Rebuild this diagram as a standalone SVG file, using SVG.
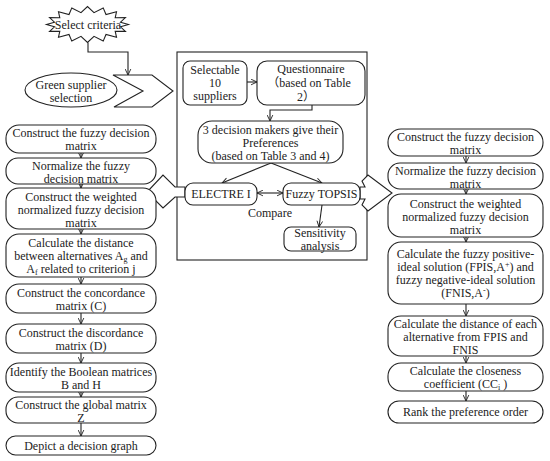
<svg xmlns="http://www.w3.org/2000/svg" width="550" height="461" viewBox="0 0 550 461">
<style>
text{font-family:"Liberation Serif","Noto Sans CJK SC",serif;font-size:12px;fill:#222;text-anchor:middle}
.b{fill:#fff;stroke:#222;stroke-width:1.1}
.c{fill:none;stroke:#222;stroke-width:1.1}
.sub{font-size:8px}
</style>
<defs>
<marker id="a" viewBox="0 0 10 10" refX="9.5" refY="5" markerWidth="7" markerHeight="7" markerUnits="userSpaceOnUse" orient="auto-start-reverse">
<path d="M1,1 L9.5,5 L1,9" fill="none" stroke="#222" stroke-width="1.3"/>
</marker>
</defs>
<rect width="550" height="461" fill="#fff"/>

<g id="center-frame"><rect class="c" x="177" y="52" width="190" height="208"/></g>

<g id="connectors">
<path class="c" d="M88,42.5 V52 H128 V75" marker-end="url(#a)"/>
<path class="c" d="M247,82 H257" marker-end="url(#a)"/>
<path class="c" d="M312,105 V110 H270 V121" marker-end="url(#a)"/>
<path class="c" d="M271,163 L222,183" marker-end="url(#a)"/>
<path class="c" d="M271,163 L322,183" marker-end="url(#a)"/>
<path class="c" d="M257,193 H283" marker-start="url(#a)" marker-end="url(#a)"/>
<path class="c" d="M322,205 L319,227" marker-end="url(#a)"/>
<path class="c" d="M81,153 V158" marker-end="url(#a)"/>
<path class="c" d="M81,184 V188" marker-end="url(#a)"/>
<path class="c" d="M81,229 V234" marker-end="url(#a)"/>
<path class="c" d="M81,277 V284" marker-end="url(#a)"/>
<path class="c" d="M81,313 V324" marker-end="url(#a)"/>
<path class="c" d="M81,353 V363" marker-end="url(#a)"/>
<path class="c" d="M81,392 V397" marker-end="url(#a)"/>
<path class="c" d="M81,423 V436" marker-end="url(#a)"/>
<path class="c" d="M466,156 V163" marker-end="url(#a)"/>
<path class="c" d="M466,189 V194" marker-end="url(#a)"/>
<path class="c" d="M466,237 V242" marker-end="url(#a)"/>
<path class="c" d="M466,304 V316" marker-end="url(#a)"/>
<path class="c" d="M466,356 V363" marker-end="url(#a)"/>
<path class="c" d="M466,391 V401" marker-end="url(#a)"/>
</g>

<g id="select-criteria">
<polygon class="b" points="128.5,24.5 120.5,26.8 125.4,31.4 115.2,31.2 116.5,37.2 106,34.5 103.2,41.1 94,36.3 87.5,42.5 81,36.3 71.8,41.1 69,34.5 58.5,37.2 59.8,31.2 49.6,31.4 54.5,26.8 46.5,24.5 54.5,22.2 49.6,17.6 59.8,17.8 58.5,11.8 69,14.5 71.8,7.9 81,12.7 87.5,6.5 94,12.7 103.2,7.9 106,14.5 116.5,11.8 115.2,17.8 125.4,17.6 120.5,22.2"/>
<text x="88" y="28.5">Select criteria</text>
</g>

<g id="green-supplier">
<ellipse class="b" cx="71" cy="90" rx="46" ry="17"/>
<text x="71" y="89">Green supplier</text>
<text x="71" y="102">selection</text>
</g>

<g id="chevron">
<polygon class="b" points="113,75 152,75 173,91 152,107 114,107 143,91"/>
</g>

<g id="selectable">
<rect class="b" x="183" y="61" width="64" height="44" rx="7"/>
<text x="215" y="74">Selectable</text>
<text x="215" y="87">10</text>
<text x="215" y="100">suppliers</text>
</g>

<g id="questionnaire">
<rect class="b" x="257" y="61" width="108" height="44" rx="10"/>
<text x="311" y="73">Questionnaire</text>
<text x="309" y="87">（based on Table</text>
<text x="306" y="101">2）</text>
</g>

<g id="decision-makers">
<rect class="b" x="198" y="121" width="145" height="42" rx="14"/>
<text x="270.5" y="134">3 decision makers give their</text>
<text x="270.5" y="147">Preferences</text>
<text x="270.5" y="160">(based on Table 3 and 4)</text>
</g>

<g id="left-big-arrow">
<polygon class="b" points="185,187 175,187 163,175 147,192 163,208 175,197 185,197"/>
</g>
<g id="right-big-arrow">
<polygon class="b" points="360,187 365,187 362,181 368,175 392,193 368,211 362,205 365,199 360,199"/>
</g>

<g id="electre">
<rect class="b" x="185" y="183" width="72" height="22" rx="8"/>
<text x="221" y="198">ELECTRE I</text>
</g>

<g id="fuzzy-topsis">
<rect class="b" x="283" y="183" width="77" height="22" rx="8"/>
<text x="321.5" y="198">Fuzzy TOPSIS</text>
</g>

<text x="270" y="217">Compare</text>

<g id="sensitivity">
<rect class="b" x="284" y="227" width="72" height="24" rx="7"/>
<text x="320" y="237">Sensitivity</text>
<text x="320" y="250">analysis</text>
</g>

<g id="l1"><rect class="b" x="6" y="125" width="150" height="28" rx="13"/>
<text x="81" y="137">Construct the fuzzy decision</text><text x="81" y="150">matrix</text></g>
<g id="l2"><rect class="b" x="6" y="158" width="150" height="26" rx="12"/>
<text x="81" y="170">Normalize the fuzzy</text><text x="81" y="183">decision matrix</text></g>
<g id="l3"><rect class="b" x="6" y="188" width="150" height="41" rx="13"/>
<text x="81" y="201">Construct the weighted</text><text x="81" y="214">normalized fuzzy decision</text><text x="81" y="227">matrix</text></g>
<g id="l4"><rect class="b" x="6" y="234" width="150" height="43" rx="13"/>
<text x="81" y="247">Calculate the distance</text><text x="81" y="260">between alternatives A<tspan class="sub" dy="1.5">g</tspan><tspan dy="-1.5"> and</tspan></text><text x="81" y="273">A<tspan class="sub" dy="1.5">f</tspan><tspan dy="-1.5"> related to criterion j</tspan></text></g>
<g id="l5"><rect class="b" x="6" y="284" width="150" height="29" rx="13"/>
<text x="81" y="297">Construct the concordance</text><text x="81" y="310">matrix (C)</text></g>
<g id="l6"><rect class="b" x="6" y="324" width="150" height="29" rx="13"/>
<text x="81" y="337">Construct the discordance</text><text x="81" y="350">matrix (D)</text></g>
<g id="l7"><rect class="b" x="6" y="363" width="150" height="29" rx="13"/>
<text x="81" y="376">Identify the Boolean matrices</text><text x="81" y="389">B and H</text></g>
<g id="l8"><rect class="b" x="6" y="397" width="150" height="26" rx="12"/>
<text x="81" y="409">Construct the global matrix</text><text x="81" y="422">Z</text></g>
<g id="l9"><rect class="b" x="6" y="436" width="150" height="19" rx="9.5"/>
<text x="81" y="450">Depict a decision graph</text></g>

<g id="r1"><rect class="b" x="388" y="129" width="155" height="27" rx="13"/>
<text x="465.5" y="141">Construct the fuzzy decision</text><text x="465.5" y="154">matrix</text></g>
<g id="r2"><rect class="b" x="388" y="163" width="155" height="26" rx="12"/>
<text x="465.5" y="175">Normalize the fuzzy decision</text><text x="465.5" y="188">matrix</text></g>
<g id="r3"><rect class="b" x="388" y="194" width="155" height="43" rx="13"/>
<text x="465.5" y="208">Construct the weighted</text><text x="465.5" y="221">normalized fuzzy decision</text><text x="465.5" y="234">matrix</text></g>
<g id="r4"><rect class="b" x="388" y="242" width="155" height="62" rx="13"/>
<text x="465.5" y="258">Calculate the fuzzy positive-</text><text x="465.5" y="271">ideal solution (FPIS,A<tspan class="sub" dy="-4">+</tspan><tspan dy="4">) and</tspan></text><text x="465.5" y="284">fuzzy negative-ideal solution</text><text x="465.5" y="297">(FNIS,A<tspan class="sub" dy="-4">-</tspan><tspan dy="4">)</tspan></text></g>
<g id="r5"><rect class="b" x="388" y="316" width="155" height="40" rx="13"/>
<text x="465.5" y="328">Calculate the distance of each</text><text x="465.5" y="341">alternative from FPIS and</text><text x="465.5" y="354">FNIS</text></g>
<g id="r6"><rect class="b" x="388" y="363" width="155" height="28" rx="13"/>
<text x="465.5" y="375">Calculate the closeness</text><text x="465.5" y="388">coefficient (CC<tspan class="sub" dy="1.5">i</tspan><tspan dy="-1.5"> )</tspan></text></g>
<g id="r7"><rect class="b" x="388" y="401" width="155" height="22" rx="11"/>
<text x="465.5" y="416">Rank the preference order</text></g>
</svg>
